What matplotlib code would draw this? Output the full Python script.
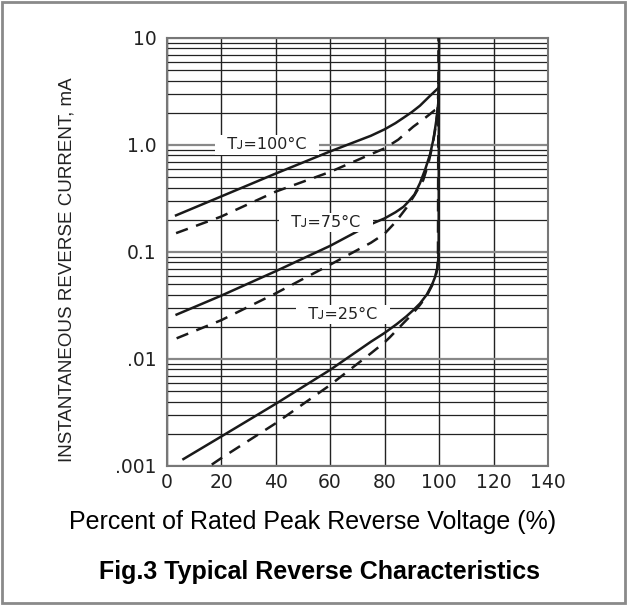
import matplotlib
matplotlib.use('Agg')
import matplotlib.pyplot as plt
from matplotlib.patches import Rectangle
from matplotlib.ticker import NullFormatter, LogLocator

plt.rcParams['font.family'] = ['Liberation Sans', 'DejaVu Sans']

# Percent of rated peak reverse voltage vs reverse current (mA)
x_100_solid = [3.5, 20, 40, 60, 75, 80, 84, 87, 90, 93, 96.5, 99.7]
y_100_solid = [0.22, 0.33, 0.54, 0.87, 1.22, 1.4, 1.6, 1.8, 2.03, 2.33, 2.85, 3.4]
x_100_dash = [3.5, 20, 40, 60, 75, 80, 85, 90.5, 95, 98.5, 99.7]
y_100_dash = [0.15, 0.214, 0.366, 0.56, 0.82, 0.93, 1.12, 1.48, 1.8, 2.12, 2.2]

x_75_solid = [3.7, 20, 40, 60, 75, 80, 84, 87, 89, 91, 93, 95, 96.7, 98, 99, 99.7, 99.85]
y_75_solid = [0.026, 0.039, 0.066, 0.114, 0.182, 0.206, 0.235, 0.265, 0.3, 0.345, 0.44, 0.6,
              0.82, 1.15, 1.7, 2.45, 4.0]
x_75_dash = [3.7, 20, 40, 60, 75, 80, 84, 88, 91, 94.2, 96, 97.3, 98.5, 99.4, 99.7]
y_75_dash = [0.0156, 0.023, 0.041, 0.076, 0.122, 0.148, 0.19, 0.258, 0.34, 0.47, 0.66, 0.92,
             1.35, 1.98, 3.0]

x_25_solid = [6.2, 20, 40, 60, 75, 80, 84.5, 88, 90.6, 93, 95.5, 97.5, 98.5, 99.3, 99.7, 99.85,
              99.9, 100]
y_25_solid = [0.00116, 0.00188, 0.0038, 0.0079, 0.0145, 0.0175, 0.0212, 0.025, 0.0287, 0.033,
              0.04, 0.05, 0.058, 0.07, 0.085, 0.12, 1.0, 10]
x_25_dash = [16.6, 20, 40, 60, 75, 80, 82, 86.9, 90, 93, 95.5, 97.5, 98.6, 99.3, 99.6, 99.7,
             99.8]
y_25_dash = [0.00103, 0.00118, 0.0025, 0.0057, 0.0113, 0.0143, 0.016, 0.0216, 0.026, 0.032,
             0.039, 0.049, 0.058, 0.068, 0.085, 1.0, 10]

labels = ['Tᴊ=100°C', 'Tᴊ=75°C', 'Tᴊ=25°C']
label_x = [36.9, 58.5, 64.8]
label_y = [1.0, 0.19, 0.026]

x_ticks = [0, 20, 40, 60, 80, 100, 120, 140]
y_ticks = [0.001, 0.01, 0.1, 1.0, 10]
y_tick_labels = ['.001', '.01', '0.1', '1.0', '10']

fig = plt.figure(figsize=(6.27, 6.05), dpi=100)
ax = fig.add_axes([0.2656, 0.2298, 0.6085, 0.7074])

ax.set_yscale('log')
ax.set_xlim(0, 140)
ax.set_ylim(0.001, 10)

ax.set_xticks(x_ticks)
ax.set_xticklabels([str(t) for t in x_ticks], fontsize=13.5, family='DejaVu Sans',
                   color='#222222')
ax.set_yticks(y_ticks)
ax.set_yticklabels(y_tick_labels, fontsize=13.5, family='DejaVu Sans', color='#222222')
ax.yaxis.set_minor_locator(LogLocator(base=10, subs=range(2, 10)))
ax.yaxis.set_minor_formatter(NullFormatter())
ax.tick_params(which='both', length=0)
ax.tick_params(axis='y', pad=7)
ax.tick_params(axis='x', pad=5)

ax.grid(True, which='major', axis='x', color='#222222', lw=1.0)
ax.grid(True, which='major', axis='y', color='#888888', lw=1.6)
ax.grid(True, which='minor', axis='y', color='#222222', lw=0.9)
ax.set_axisbelow(True)
for s in ax.spines.values():
    s.set_color('#777777')
    s.set_linewidth(1.5)

dash = (0, (5, 3.5))
kw = dict(color='#1a1a1a', lw=1.8, zorder=3)
ax.plot(x_100_solid, y_100_solid, **kw)
ax.plot(x_100_dash, y_100_dash, ls=dash, **kw)
ax.plot(x_75_solid, y_75_solid, **kw)
ax.plot(x_75_dash, y_75_dash, ls=dash, **kw)
ax.plot(x_25_solid, y_25_solid, **kw)
ax.plot(x_25_dash, y_25_dash, ls=dash, **kw)

for t, lx, ly in zip(labels, label_x, label_y):
    ax.text(lx, ly, '  ' + t + '  ', fontsize=11.5, family='DejaVu Sans', ha='center',
            va='center', zorder=4, color='#222222',
            bbox=dict(facecolor='white', edgecolor='none', pad=1.5))

fig.text(0.107, 0.554, 'INSTANTANEOUS REVERSE CURRENT, mA', rotation=90,
         fontsize=13.5, ha='center', va='center', color='#222222')
fig.text(0.498, 0.137, 'Percent of Rated Peak Reverse Voltage (%)',
         fontsize=18, ha='center', va='center')
fig.text(0.51, 0.054, 'Fig.3 Typical Reverse Characteristics',
         fontsize=18, fontweight='bold', ha='center', va='center')

fig.patches.append(Rectangle((0.003, 0.003), 0.994, 0.994, transform=fig.transFigure,
                             fill=False, edgecolor='#8a8a8a', lw=2))

fig.savefig('out.png', dpi=100)
